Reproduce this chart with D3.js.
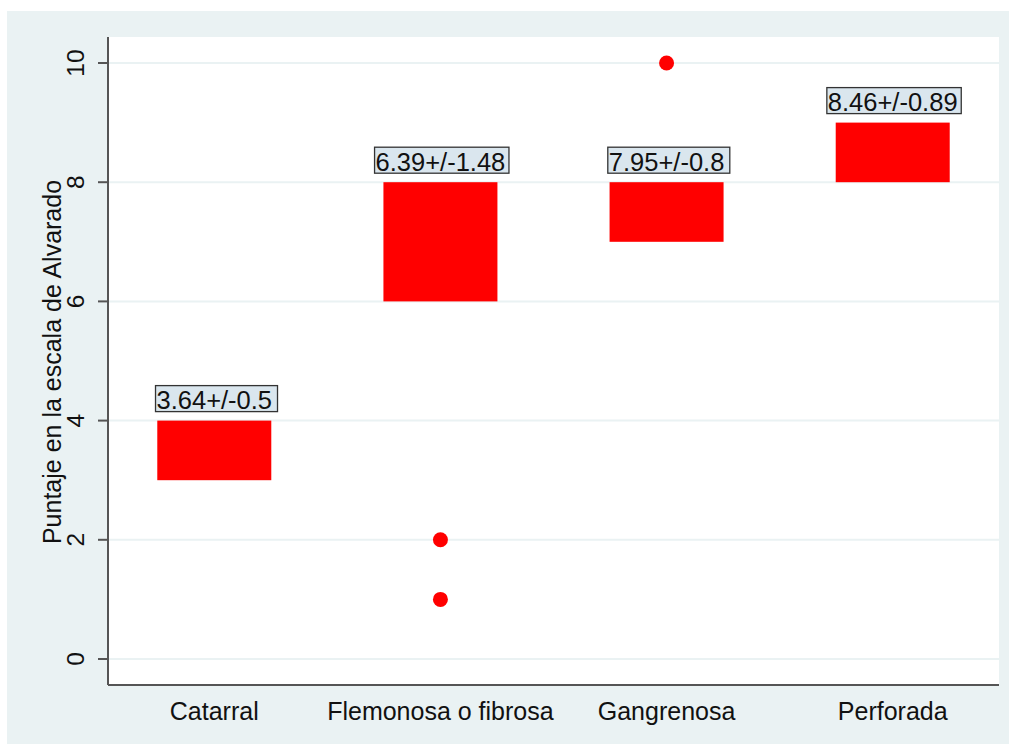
<!DOCTYPE html>
<html><head><meta charset="utf-8">
<script src="https://cdn.jsdelivr.net/npm/d3@7"></script>
<style>html,body{margin:0;padding:0;background:#fff;}svg{display:block;}</style>
</head><body>
<svg id="c" width="1009" height="744"></svg>
<script>
const categories = ["Catarral", "Flemonosa o fibrosa", "Gangrenosa", "Perforada"];
const q1 = [3, 6, 7, 8];
const q3 = [4, 8, 8, 9];
const outliers = [[], [1, 2], [10], []];
const meanLabels = ["3.64+/-0.5", "6.39+/-1.48", "7.95+/-0.8", "8.46+/-0.89"];
const yTicks = [0, 2, 4, 6, 8, 10];
const yTitle = "Puntaje en la escala de Alvarado";

const svg = d3.select("#c");
const font = "'Liberation Sans', Arial, Helvetica, sans-serif";
const plot = {l:108, r:999, t:37, b:685};

svg.append("rect").attr("x",7).attr("y",11).attr("width",1002).attr("height",733).attr("fill","#eaf2f3");
svg.append("rect").attr("x",plot.l).attr("y",plot.t).attr("width",plot.r-plot.l).attr("height",plot.b-plot.t).attr("fill","#fff");

const y = d3.scaleLinear().domain([0,10]).range([659,63]);
const x = d3.scalePoint().domain(categories).range([plot.l, plot.r]).padding(0.47);
const bw = 114;

// gridlines
svg.append("g").selectAll("line").data(yTicks).join("line")
  .attr("x1",plot.l).attr("x2",plot.r).attr("y1",d=>y(d)).attr("y2",d=>y(d))
  .attr("stroke","#eaf2f3").attr("stroke-width",2);

// boxes
const idx = d3.range(categories.length);
svg.append("g").selectAll("rect").data(idx).join("rect")
  .attr("x",i=>x(categories[i])-bw/2).attr("width",bw)
  .attr("y",i=>y(q3[i])).attr("height",i=>y(q1[i])-y(q3[i]))
  .attr("fill","#ff0000");

// outliers
const pts = idx.flatMap(i=>outliers[i].map(v=>({c:categories[i],v})));
svg.append("g").selectAll("circle").data(pts).join("circle")
  .attr("cx",d=>x(d.c)).attr("cy",d=>y(d.v)).attr("r",7.5).attr("fill","#ff0000");

// mean labels with boxes
const lg = svg.append("g");
idx.forEach(i=>{
  const cx = x(categories[i]);
  const base = y(q3[i]) - 11.5;
  const g = lg.append("g");
  const r = g.append("rect");
  const t = g.append("text").attr("x",cx).attr("y",base).attr("text-anchor","middle")
    .attr("font-family",font).attr("font-size",25.5).attr("fill","#111").text(meanLabels[i]);
  const w = t.node().getComputedTextLength();
  const bwid = Math.max(w + 3, 12.4*meanLabels[i].length - 2);
  r.attr("x",cx-w/2-1).attr("y",base-23.5).attr("width",bwid).attr("height",26)
    .attr("fill","#dae6ee").attr("stroke","#333").attr("stroke-width",1.3);
});

// y axis
const ya = svg.append("g");
ya.append("line").attr("x1",plot.l).attr("x2",plot.l).attr("y1",plot.t).attr("y2",plot.b)
  .attr("stroke","#555").attr("stroke-width",2);
ya.selectAll("line.tk").data(yTicks).join("line").attr("class","tk")
  .attr("x1",plot.l-10).attr("x2",plot.l).attr("y1",d=>y(d)).attr("y2",d=>y(d))
  .attr("stroke","#555").attr("stroke-width",2);
ya.selectAll("text").data(yTicks).join("text")
  .attr("transform",d=>`translate(84,${y(d)}) rotate(-90)`).attr("text-anchor","middle")
  .attr("font-family",font).attr("font-size",24.5).attr("fill","#111").text(d=>d);
svg.append("text").attr("transform","translate(61,362) rotate(-90)").attr("text-anchor","middle")
  .attr("font-family",font).attr("font-size",25).attr("fill","#111").text(yTitle);

// x axis
svg.append("line").attr("x1",plot.l).attr("x2",plot.r).attr("y1",plot.b).attr("y2",plot.b)
  .attr("stroke","#555").attr("stroke-width",2);
svg.append("g").selectAll("text").data(categories).join("text")
  .attr("x",d=>x(d)).attr("y",719.5).attr("text-anchor","middle")
  .attr("font-family",font).attr("font-size",25).attr("fill","#111").text(d=>d);
</script>
</body></html>
